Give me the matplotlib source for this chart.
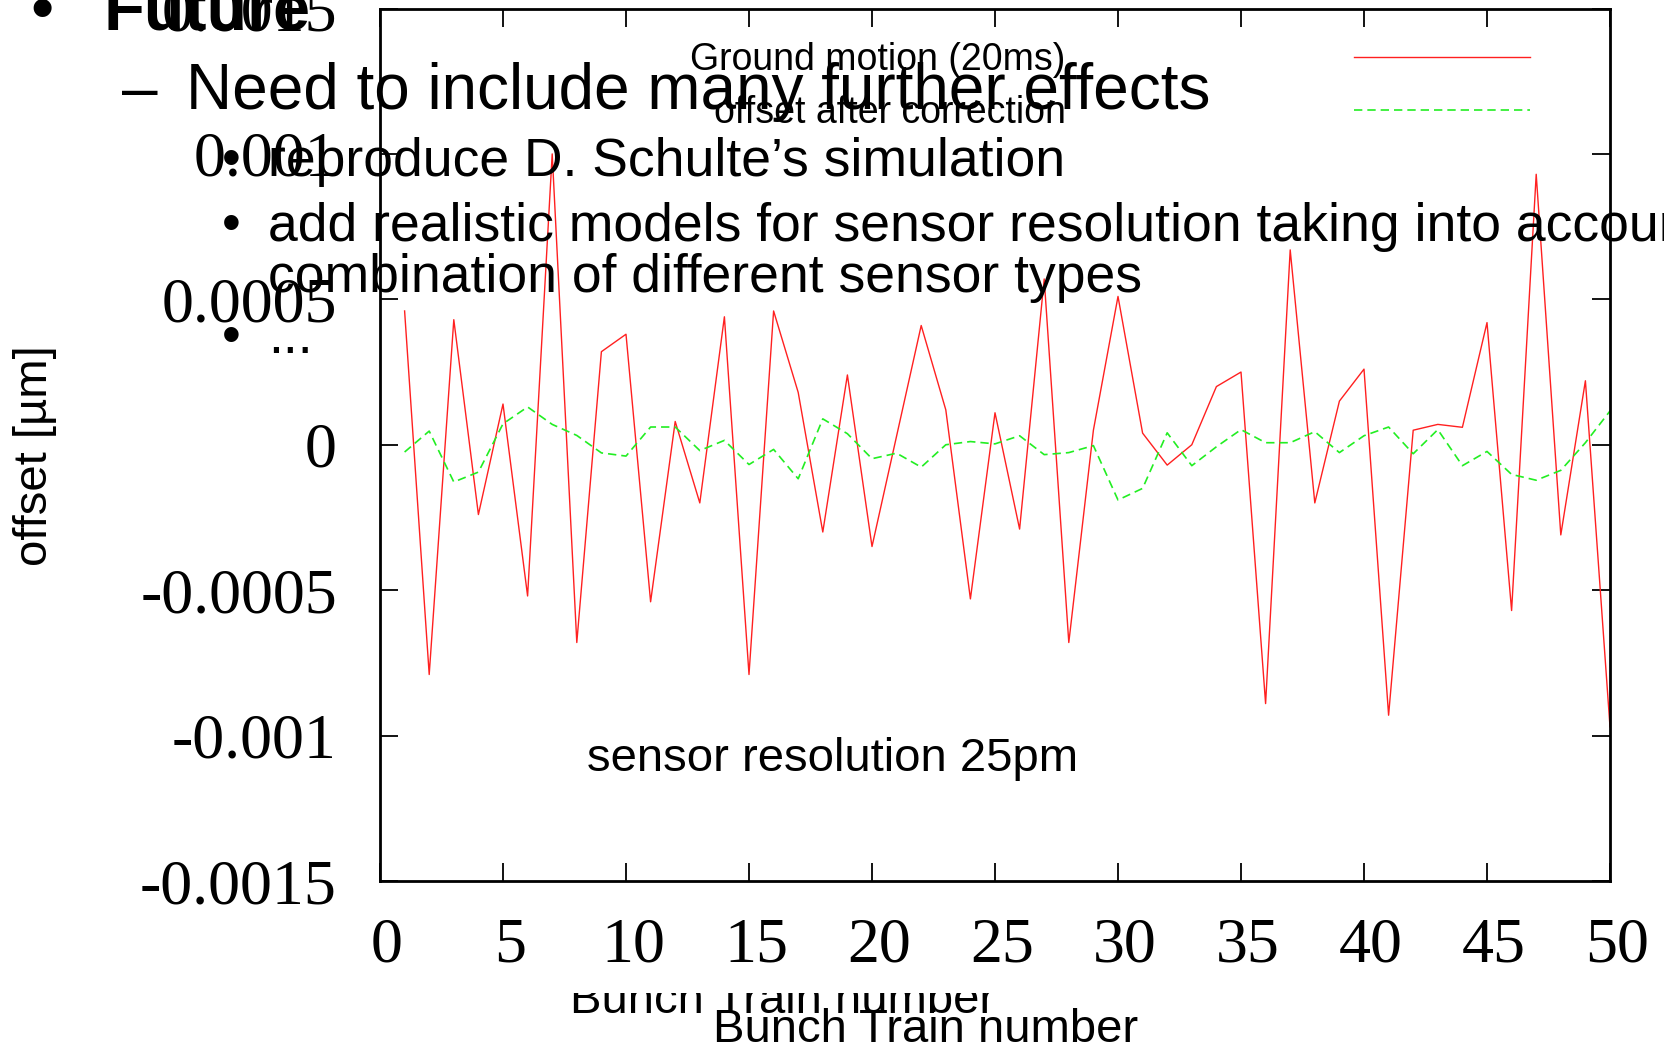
import matplotlib
matplotlib.use("Agg")
import matplotlib.pyplot as plt
from matplotlib.patches import Rectangle
from matplotlib.transforms import ScaledTranslation

# data
bunch = list(range(1, 51))
ground_motion = [0.00046, -0.00079, 0.00043, -0.00024, 0.00014, -0.00052, 0.00100, -0.00068, 0.00032, 0.00038,
                 -0.00054, 0.00008, -0.00020, 0.00044, -0.00079, 0.00046, 0.00018, -0.00030, 0.00024, -0.00035,
                 0.00003, 0.00041, 0.00012, -0.00053, 0.00011, -0.00029, 0.00057, -0.00068, 0.00005, 0.00051,
                 0.00004, -0.00007, 0.00000, 0.00020, 0.00025, -0.00089, 0.00067, -0.00020, 0.00015, 0.00026,
                 -0.00093, 0.00005, 0.00007, 0.00006, 0.00042, -0.00057, 0.00093, -0.00031, 0.00022, -0.00097]
after_correction = [-0.000025, 0.000047, -0.000128, -0.000094, 0.000072, 0.000130, 0.000070, 0.000032, -0.000028, -0.000039,
                    0.000061, 0.000061, -0.000020, 0.000015, -0.000068, -0.000016, -0.000117, 0.000089, 0.000038, -0.000048,
                    -0.000029, -0.000077, 0.000000, 0.000011, 0.000003, 0.000031, -0.000034, -0.000027, -0.000003, -0.000190,
                    -0.000150, 0.000041, -0.000072, -0.000007, 0.000052, 0.000007, 0.000007, 0.000045, -0.000027, 0.000031,
                    0.000061, -0.000031, 0.000052, -0.000072, -0.000023, -0.000102, -0.000122, -0.000088, 0.000007, 0.000116]
x_ticks = [0, 5, 10, 15, 20, 25, 30, 35, 40, 45, 50]
y_ticks = [-0.0015, -0.001, -0.0005, 0, 0.0005, 0.001, 0.0015]
y_tick_labels = ["-0.0015", "-0.001", "-0.0005", "0", "0.0005", "0.001", "0.0015"]
series_names = ["Ground motion (20ms)", "offset after correction"]

W, H = 1664, 1047
SANS = ["Liberation Sans", "DejaVu Sans"]
SERIF = ["Liberation Serif", "DejaVu Serif"]

fig = plt.figure(figsize=(W / 100, H / 100), dpi=100)
ax = fig.add_axes([380 / W, 1 - 881 / H, 1230 / W, 872.5 / H])

ax.plot(bunch, ground_motion, color="#ff2020", lw=1.0, label=series_names[0])
ax.plot(bunch, after_correction, color="#22ee22", lw=1.2, dashes=(5, 3), label=series_names[1])

ax.set_xlim(0, 50)
ax.set_ylim(-0.0015, 0.0015)
ax.set_xticks(x_ticks)
ax.set_yticks(y_ticks)
ax.set_yticklabels(y_tick_labels)
ax.tick_params(direction="in", length=13, width=1.3, top=True, right=True, labelsize=46)
ax.tick_params(axis="y", pad=31)
ax.tick_params(axis="x", pad=26)
for lab in ax.get_xticklabels() + ax.get_yticklabels():
    lab.set_family(SERIF)
for lab in ax.get_xticklabels():
    lab.set_transform(lab.get_transform() + ScaledTranslation(5 / 72, 0, fig.dpi_scale_trans))
for sp in ax.spines.values():
    sp.set_linewidth(2.0)

ax.legend(loc="upper left", bbox_to_anchor=(690 / W, 1 - 42 / H), bbox_transform=fig.transFigure,
          frameon=False, markerfirst=False, borderpad=0, borderaxespad=0,
          handlelength=4.7, handletextpad=7.7, labelspacing=0.45,
          prop=dict(family=SANS, size=27))


def put(x, y, s, size, **kw):
    # x, y in pixels from the top left, y is the baseline
    fig.text(x / W, 1 - y / H, s, fontsize=size, va="baseline", ha=kw.pop("ha", "left"),
             family=kw.pop("family", SANS), **kw)


# slide text on top of the chart
put(30, 30, "\u2022", 48)
put(103, 30, "Future", 48, weight="bold")
put(122, 109, "\u2013", 46)
put(186, 109, "Need to include many further effects", 46)
put(222, 176, "\u2022", 38.5)
put(268, 176, "reproduce D. Schulte\u2019s simulation", 38.5)
put(222, 241, "\u2022", 38.5)
put(268, 241, "add realistic models for sensor resolution taking into account", 38.5)
put(268, 292, "combination of different sensor types", 38.5)
put(222, 353, "\u2022", 38.5)
put(268, 353, "...", 38.5)
put(587, 771, "sensor resolution 25pm", 34)

fig.text(35 / W, 1 - 456 / H, "offset [\u00b5m]", rotation=90, fontsize=34, family=SANS,
         ha="center", va="center")

# two copies of the axis title, the upper one half hidden
put(570, 1013, "Bunch Train number", 34)
fig.patches.append(Rectangle((560 / W, 1 - 993 / H), 460 / W, 28 / H, transform=fig.transFigure,
                             facecolor="white", edgecolor="none", zorder=5))
put(713, 1042, "Bunch Train number", 34)

fig.savefig("out.png", dpi=100)
